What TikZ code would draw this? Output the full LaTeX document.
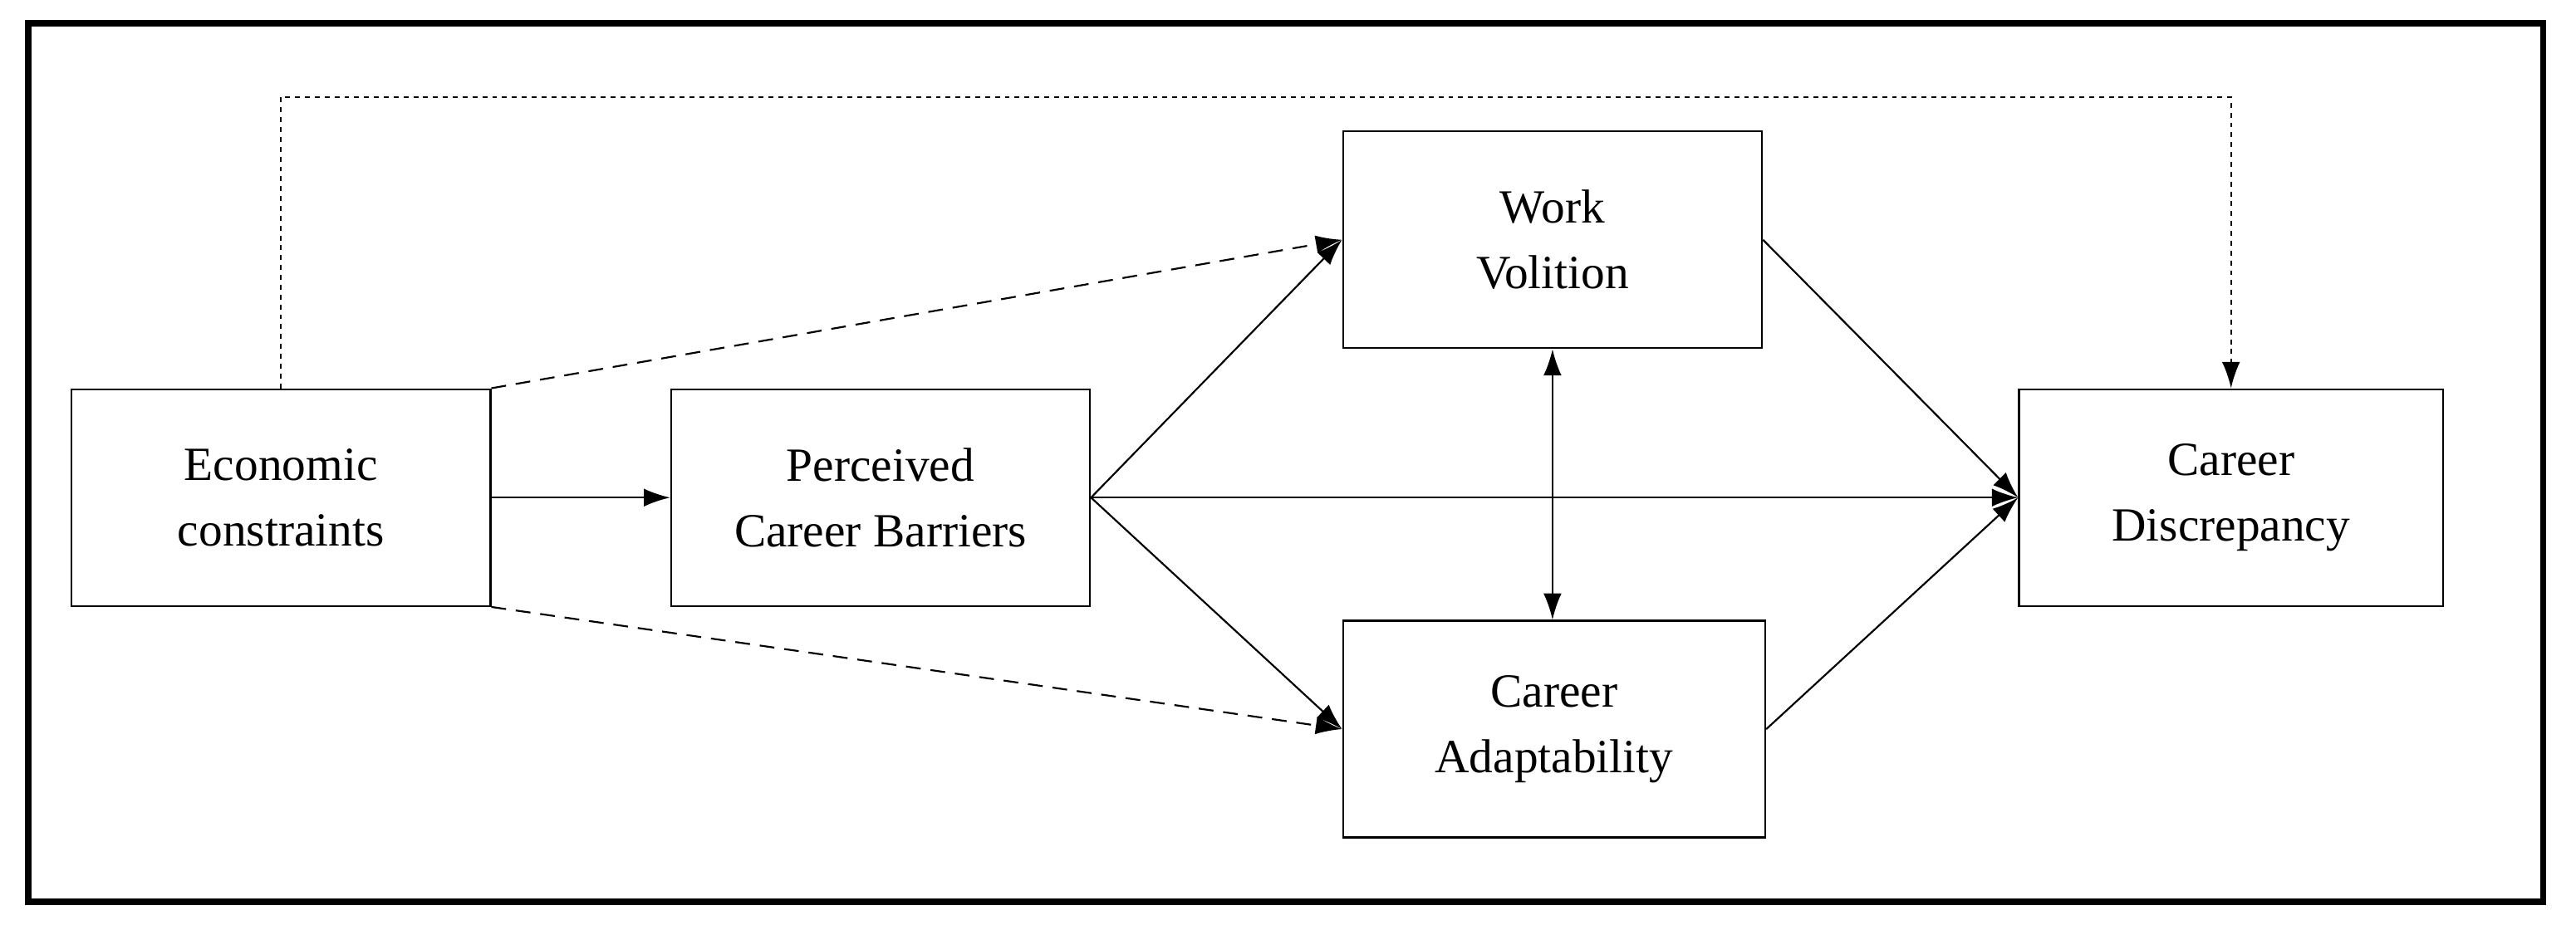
\documentclass[tikz,border=0pt]{standalone}
\usepackage{fontspec}
\setmainfont{Liberation Serif}
\usetikzlibrary{arrows.meta}
\begin{document}
\begin{tikzpicture}[x=1pt,y=-1pt,
  box/.style={draw,line width=1.2pt,minimum width=255pt,minimum height=132pt,align=center,font=\fontsize{29}{40}\selectfont,inner sep=0pt},
  arr/.style={line width=1.1pt,-{Latex[length=16pt,width=11pt]}},
  dsh/.style={arr,dash pattern=on 9pt off 6pt},
  dot/.style={arr,dash pattern=on 3pt off 3pt}]
\useasboundingbox (0,0) rectangle (1568,569);
\draw[line width=4pt] (17,14) rectangle (1548,549);
\node[box] (ec) at (171,303) {Economic\\constraints};
\node[box] (pcb) at (536,303) {Perceived\\Career Barriers};
\node[box] (wv) at (945,146) {Work\\Volition};
\node[box,minimum width=257pt] (ca) at (946,444) {Career\\Adaptability};
\node[box,minimum width=258pt] (cd) at (1358,303) {Career\\Discrepancy};
\coordinate (t1) at (171,59);
\coordinate (t2) at (1358,59);
\draw[dot] (ec.north) -- (t1) -- (t2) -- (cd.north);
\draw[dsh] (ec.north east) -- (wv.west);
\draw[dsh] (ec.south east) -- (ca.west);
\draw[arr] (ec.east) -- (pcb.west);
\draw[arr] (pcb.east) -- (wv.west);
\draw[arr] (pcb.east) -- (ca.west);
\draw[arr] (pcb.east) -- (cd.west);
\draw[arr] (wv.east) -- (cd.west);
\draw[arr] (ca.east) -- (cd.west);
\draw[arr,{Latex[length=16pt,width=11pt]}-{Latex[length=16pt,width=11pt]}] (wv.south) -- (wv.south |- ca.north);
\end{tikzpicture}
\end{document}
